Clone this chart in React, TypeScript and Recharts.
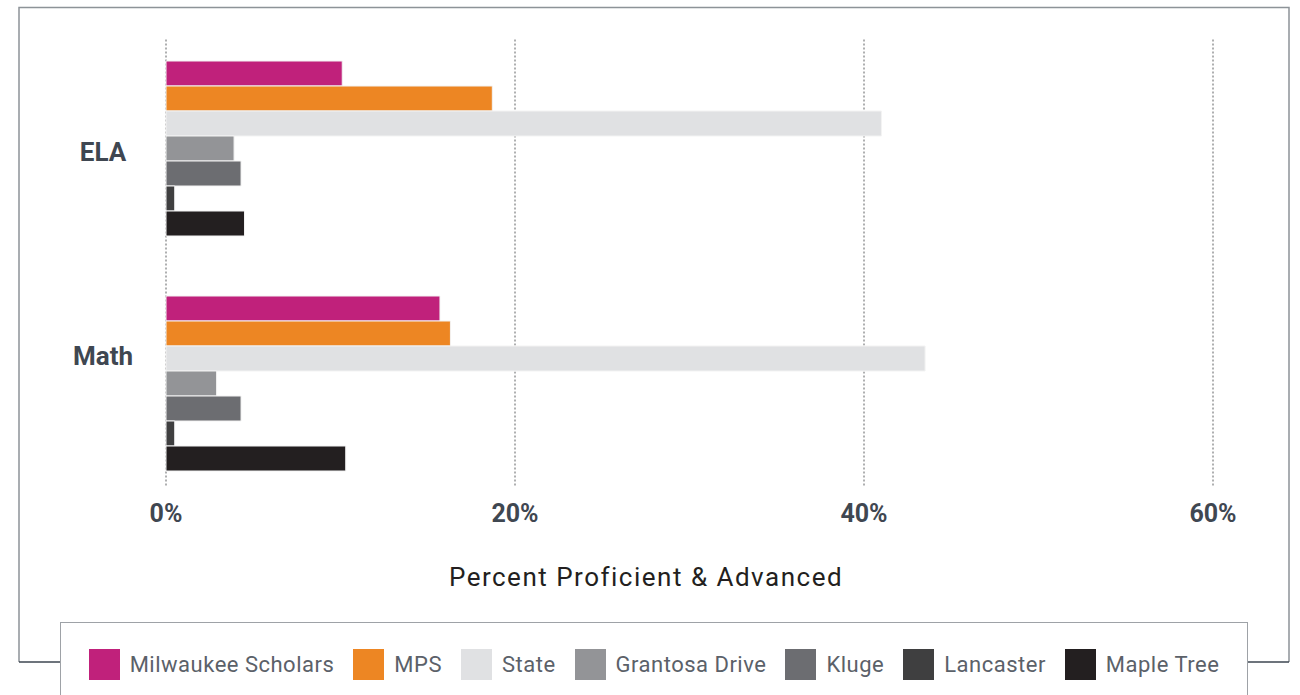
import React from 'react';
import { BarChart, Bar, XAxis, YAxis, CartesianGrid, Legend } from 'recharts';

// Subjects on the category axis
const subjects = ['ELA', 'Math'];

// Percent proficient & advanced, one array per school / comparison group
const milwaukeeScholars = [10.1, 15.7];
const mps = [18.7, 16.3];
const state = [41.0, 43.5];
const grantosaDrive = [3.9, 2.9];
const kluge = [4.3, 4.3];
const lancaster = [0.5, 0.5];
const mapleTree = [4.5, 10.3];

const xTicks = [0, 20, 40, 60];

const series = [
  { key: 'ms', name: 'Milwaukee Scholars', values: milwaukeeScholars, color: '#c0217b' },
  { key: 'mps', name: 'MPS', values: mps, color: '#ed8623' },
  { key: 'state', name: 'State', values: state, color: '#e0e1e3' },
  { key: 'grantosa', name: 'Grantosa Drive', values: grantosaDrive, color: '#939497' },
  { key: 'kluge', name: 'Kluge', values: kluge, color: '#6c6d71' },
  { key: 'lancaster', name: 'Lancaster', values: lancaster, color: '#3f3f40' },
  { key: 'maple', name: 'Maple Tree', values: mapleTree, color: '#231f20' },
];

const rows = subjects.map((subject, i) => {
  const row: Record<string, string | number> = { subject };
  series.forEach((s) => {
    row[s.key] = s.values[i];
  });
  return row;
});

const FONT = 'Roboto, "DejaVu Sans", sans-serif';
const LABEL_COLOR = '#3f4751';

// vertical nudge for individual category labels
const labelShift: Record<string, number> = { Math: -31 };

const SubjectTick = (props: any) => {
  const { y, payload } = props;
  const shift = labelShift[payload.value] ?? 0;
  return (
    <text
      x={103}
      y={y + 11 + shift}
      textAnchor="middle"
      fontFamily={FONT}
      fontWeight={700}
      fontSize={26}
      fill={LABEL_COLOR}
    >
      {payload.value}
    </text>
  );
};

const PercentTick = (props: any) => {
  const { x, y, payload } = props;
  return (
    <text
      x={x}
      y={y + 19.5}
      textAnchor="middle"
      fontFamily={FONT}
      fontWeight={700}
      fontSize={25}
      fill={LABEL_COLOR}
    >
      {`${payload.value}%`}
    </text>
  );
};

const GridLine = (p: any) => (
  <line
    key={`grid-${p.x1}`}
    x1={p.x1}
    x2={p.x2}
    y1={p.y1 + 7}
    y2={p.y2 - 15}
    stroke="#5f6063"
    strokeWidth={1}
    strokeDasharray="2 2"
  />
);

// Legend keeps the series order rather than sorting by name
const LegendContent = () => (
  <div
    style={{
      height: 83,
      display: 'flex',
      alignItems: 'center',
      justifyContent: 'center',
      fontFamily: FONT,
      fontSize: 22,
      letterSpacing: 0.5,
      color: '#5b6169',
    }}
  >
    {series.map((s) => (
      <div key={s.key} style={{ display: 'flex', alignItems: 'center', margin: '0 9.5px' }}>
        <span
          style={{
            display: 'inline-block',
            width: 31,
            height: 31,
            background: s.color,
            marginRight: 10,
          }}
        />
        <span style={{ whiteSpace: 'nowrap' }}>{s.name}</span>
      </div>
    ))}
  </div>
);

export default function App() {
  return (
    <div
      style={{
        position: 'absolute',
        left: 0,
        top: 0,
        width: 1300,
        height: 695,
        background: '#ffffff',
        overflow: 'hidden',
      }}
    >
      <BarChart
        width={1300}
        height={695}
        data={rows}
        layout="vertical"
        margin={{ top: 32.5, right: 87, bottom: 95, left: 0 }}
        barCategoryGap={28.5}
        barGap={0}
      >
        <CartesianGrid horizontal={false} vertical={GridLine} />
        <XAxis
          type="number"
          domain={[0, 60]}
          ticks={xTicks}
          height={97.5}
          axisLine={false}
          tickLine={false}
          tickSize={0}
          tickMargin={0}
          tick={<PercentTick />}
          interval={0}
        />
        <YAxis
          type="category"
          dataKey="subject"
          width={166}
          axisLine={false}
          tickLine={false}
          tick={<SubjectTick />}
        />
        <Legend
          layout="vertical"
          align="center"
          verticalAlign="middle"
          content={<LegendContent />}
          wrapperStyle={{
            left: 60,
            top: 622,
            width: 1188,
            height: 100,
            boxSizing: 'border-box',
            borderTop: '1.5px solid #9ea2a7',
            borderLeft: '1.5px solid #9ea2a7',
            borderRight: '1.5px solid #9ea2a7',
            background: '#ffffff',
          }}
        />
        {series.map((s) => (
          <Bar
            key={s.key}
            dataKey={s.key}
            name={s.name}
            fill={s.color}
            stroke="#f3f3f3"
            strokeWidth={1}
            isAnimationActive={false}
          />
        ))}
      </BarChart>
      <svg
        width={1300}
        height={695}
        style={{ position: 'absolute', left: 0, top: 0, pointerEvents: 'none' }}
      >
        <path
          d="M19 662 L19 7.5 L1289 7.5 L1289 662"
          fill="none"
          stroke="#8d9398"
          strokeWidth={1.5}
        />
        <line x1={19} x2={60} y1={662} y2={662} stroke="#3c4650" strokeWidth={1.5} />
        <line x1={1248} x2={1289} y1={662} y2={662} stroke="#3c4650" strokeWidth={1.5} />
        <text
          x={646}
          y={586}
          textAnchor="middle"
          fontFamily={FONT}
          fontSize={26}
          letterSpacing={1.5}
          fill="#231f20"
        >
          Percent Proficient &amp; Advanced
        </text>
      </svg>
    </div>
  );
}
